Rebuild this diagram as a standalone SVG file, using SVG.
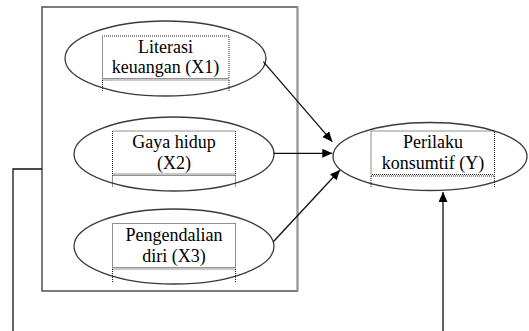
<svg xmlns="http://www.w3.org/2000/svg" width="529" height="331" viewBox="0 0 529 331">
<defs>
<style>
.ell{fill:#fff;stroke:#3a3a3a;stroke-width:1.3}
.tb{fill:none;stroke:#222;stroke-width:1;stroke-dasharray:1 1}
.txt{font-family:"Liberation Serif","Times New Roman","DejaVu Serif",serif;font-size:18px;fill:#000;text-anchor:middle}
.con{fill:none;stroke:#111;stroke-width:1.3}
</style>
<marker id="ah" markerUnits="userSpaceOnUse" markerWidth="11" markerHeight="10" refX="10" refY="4.5" orient="auto">
<path d="M0,0 L10,4.5 L0,9 z" fill="#000"/>
</marker>
</defs>
<rect width="529" height="331" fill="#fff"/>
<g id="frame">
<rect x="42" y="7" width="255.5" height="284" fill="none" stroke="#444" stroke-width="1.4"/>
<line x1="297.5" y1="7" x2="297.5" y2="291" stroke="#999" stroke-width="2"/>
</g>
<g id="x1">
<ellipse class="ell" cx="165.5" cy="58.5" rx="100.5" ry="37.5"/>
<path class="tb" d="M102.5,78.5 V36 H229 V78.5 Z M102.5,80 H229 M102.5,80 V92 M229,80 V92"/>
<text class="txt" x="165.5" y="52.7">Literasi</text>
<text class="txt" x="165.5" y="73.3">keuangan (X1)</text>
</g>
<g id="x2">
<ellipse class="ell" cx="174" cy="154" rx="100" ry="37"/>
<path class="tb" d="M112.5,174 V131 H235.5 V174 Z M112.5,175.5 H235.5 M112.5,175.5 V187 M235.5,175.5 V187"/>
<text class="txt" x="174" y="148.3">Gaya hidup</text>
<text class="txt" x="174" y="168.8">(X2)</text>
</g>
<g id="x3">
<ellipse class="ell" cx="174" cy="246.5" rx="100" ry="37.5"/>
<path class="tb" d="M112.5,267.5 V223.5 H235.5 V267.5 Z M112.5,269 H235.5 M112.5,269 V282 M235.5,269 V282"/>
<text class="txt" x="174" y="241.3">Pengendalian</text>
<text class="txt" x="174" y="262">diri (X3)</text>
</g>
<g id="y">
<ellipse class="ell" cx="430" cy="156.5" rx="97" ry="34"/>
<path class="tb" d="M371,174.5 V131 H494.5 V174.5 Z M371,176 H494.5 M371,176 V188 M494.5,176 V188"/>
<text class="txt" x="433" y="148.3">Perilaku</text>
<text class="txt" x="433" y="168.8">konsumtif (Y)</text>
</g>
<g id="connectors">
<line class="con" x1="263.3" y1="61.7" x2="332.3" y2="141.7" marker-end="url(#ah)"/>
<line class="con" x1="273.5" y1="153.3" x2="332.3" y2="153.3" marker-end="url(#ah)"/>
<line class="con" x1="273.3" y1="241.7" x2="340" y2="170" marker-end="url(#ah)"/>
<polyline class="con" points="42,169 13,169 13,331"/>
<line class="con" x1="443" y1="331" x2="443" y2="192" marker-end="url(#ah)"/>
</g>
</svg>
